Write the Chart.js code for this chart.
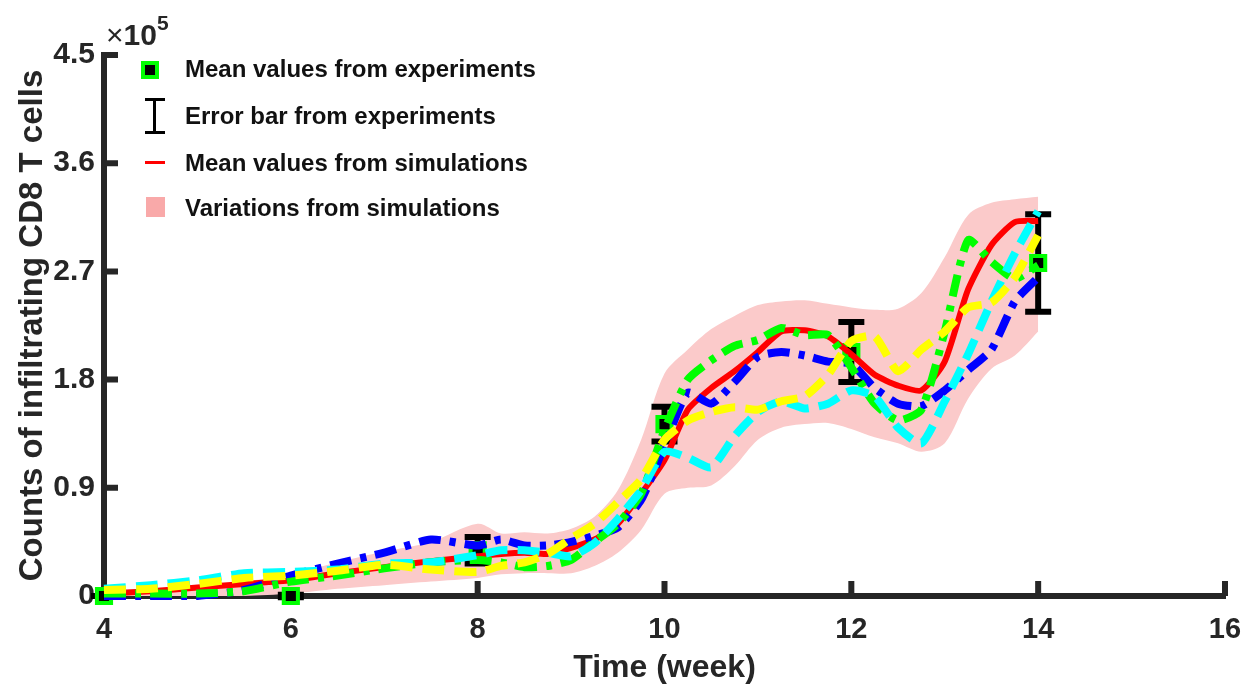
<!DOCTYPE html>
<html lang="en">
<head>
<meta charset="UTF-8">
<title>Infiltrating CD8 T cells</title>
<script src="https://cdn.jsdelivr.net/npm/chart.js"></script>
<style>
    body { margin: 0; background: #fff; font-family: "Liberation Sans", Arial, sans-serif; }
    #wrap { position: relative; width: 1260px; height: 687px; }
    canvas { position: absolute; left: 0; top: 0; }
    .lab { position: absolute; font-weight: bold; font-size: 24px; color: #111; white-space: nowrap; line-height: 1; }
    #expo { position: absolute; left: 106px; top: 16px; font-size: 30px; color: #262626; line-height: 1; }
    #expo b { font-weight: bold; }
    #expo sup { font-size: 21px; font-weight: bold; position: relative; top: -4px; }
    .mk { position: absolute; width: 10px; height: 10px; background: #000; border: 4px solid #00ff00; }
    .eb { position: absolute; width: 3px; background: #000; }
    .cap { position: absolute; width: 20px; height: 3px; background: #000; }
    .redl { position: absolute; width: 20px; height: 3px; background: #ff0000; }
    .pink { position: absolute; width: 19px; height: 20px; background: #f9a9a9; }
</style>
</head>
<body>
<div id="wrap">
    <canvas id="chart" width="1260" height="687"></canvas>
    <div id="expo">×<b>10</b><sup>5</sup></div>

    <div class="mk" style="left:141px; top:61px;"></div>
    <div class="lab" style="left:185px; top:57px;">Mean values from experiments</div>

    <div class="cap" style="left:145px; top:98px;"></div>
    <div class="eb" style="left:153px; top:98px; height:36px;"></div>
    <div class="cap" style="left:145px; top:131px;"></div>
    <div class="lab" style="left:185px; top:104px;">Error bar from experiments</div>

    <div class="redl" style="left:145px; top:161px;"></div>
    <div class="lab" style="left:185px; top:151px;">Mean values from simulations</div>

    <div class="pink" style="left:146px; top:197px;"></div>
    <div class="lab" style="left:185px; top:196px;">Variations from simulations</div>
</div>

<script>
    // time points (weeks) for the simulation curves
    const weeks = [4, 4.5, 5, 5.5, 6, 6.5, 7, 7.5,
        8, 8.25, 8.5, 8.75, 9, 9.25, 9.5, 9.75,
        10, 10.25, 10.5, 10.75, 11, 11.25, 11.5, 11.75,
        12, 12.25, 12.5, 12.75, 13, 13.25, 13.5, 13.75, 14];

    // values in units of 10^5 cells
    const simMean = [0.02, 0.04, 0.07, 0.10, 0.13, 0.19, 0.24, 0.29,
        0.33, 0.35, 0.36, 0.35, 0.40, 0.47, 0.60, 0.85,
        1.13, 1.55, 1.73, 1.87, 2.03, 2.20, 2.21, 2.16,
        2.01, 1.84, 1.75, 1.71, 1.95, 2.55, 2.92, 3.11, 3.12];
    const simBlue = [0.00, 0.00, 0.00, 0.05, 0.17, 0.27, 0.36, 0.47,
        0.42, 0.47, 0.42, 0.42, 0.45, 0.50, 0.57, 0.80,
        1.25, 1.69, 1.60, 1.78, 1.99, 2.03, 2.00, 1.95,
        1.93, 1.73, 1.60, 1.58, 1.71, 1.88, 2.05, 2.45, 2.65];
    const simGreen = [0.02, 0.02, 0.02, 0.04, 0.12, 0.17, 0.23, 0.28,
        0.30, 0.28, 0.24, 0.25, 0.30, 0.45, 0.60, 0.85,
        1.38, 1.80, 1.96, 2.08, 2.13, 2.23, 2.17, 2.17,
        1.90, 1.60, 1.46, 1.55, 2.20, 2.96, 2.78, 2.64, 2.75];
    const simCyan = [0.06, 0.09, 0.13, 0.19, 0.20, 0.22, 0.27, 0.28,
        0.34, 0.38, 0.38, 0.36, 0.33, 0.44, 0.64, 0.88,
        1.20, 1.15, 1.07, 1.33, 1.53, 1.62, 1.56, 1.60,
        1.71, 1.66, 1.40, 1.27, 1.62, 2.01, 2.45, 2.85, 3.20];
    const simYellow = [0.05, 0.06, 0.10, 0.15, 0.17, 0.21, 0.26, 0.22,
        0.20, 0.25, 0.28, 0.35, 0.48, 0.60, 0.78, 0.97,
        1.30, 1.46, 1.53, 1.57, 1.55, 1.62, 1.66, 1.84,
        2.12, 2.16, 1.87, 2.05, 2.20, 2.40, 2.44, 2.65, 3.00];
    const bandUpper = [0.05, 0.06, 0.08, 0.12, 0.18, 0.28, 0.37, 0.45,
        0.60, 0.52, 0.53, 0.52, 0.56, 0.66, 0.88, 1.30,
        1.85, 2.05, 2.22, 2.33, 2.42, 2.45, 2.46, 2.43,
        2.40, 2.38, 2.39, 2.52, 2.82, 3.17, 3.27, 3.30, 3.32];
    const bandLower = [0.00, 0.00, 0.00, 0.00, 0.02, 0.06, 0.09, 0.12,
        0.15, 0.18, 0.19, 0.19, 0.19, 0.25, 0.36, 0.55,
        0.85, 0.90, 0.92, 1.08, 1.30, 1.40, 1.43, 1.44,
        1.39, 1.32, 1.27, 1.20, 1.27, 1.64, 1.89, 2.00, 2.20];

    // experiments
    const expWeeks = [4, 6, 8, 10, 12, 14];
    const expMean = [0, 0, 0.38, 1.43, 2.03, 2.77];
    const expErr = [0, 0.01, 0.11, 0.145, 0.25, 0.405];

    const xTicks = [4, 6, 8, 10, 12, 14, 16];
    const yTicks = [0, 0.9, 1.8, 2.7, 3.6, 4.5];
    const yTickLabels = ['0', '0.9', '1.8', '2.7', '3.6', '4.5'];

    const axisColor = '#262626';
    const pts = vals => weeks.map((w, i) => ({ x: w, y: vals[i] }));

    function simLine(label, vals, color, dash, order) {
        return {
            label: label,
            data: pts(vals),
            borderColor: color,
            borderWidth: 8,
            borderDash: dash,
            borderJoinStyle: 'round',
            tension: 0.2,
            pointRadius: 0,
            fill: false,
            clip: false,
            order: order
        };
    }

    // experiment error bars, drawn right before the marker dataset
    const errorBars = {
        id: 'errorBars',
        beforeDatasetDraw(chart, args) {
            if (chart.data.datasets[args.index].label !== 'experiments') return;
            const { ctx, scales: { x, y } } = chart;
            ctx.save();
            ctx.strokeStyle = '#000';
            ctx.lineWidth = 6;
            ctx.beginPath();
            expWeeks.forEach((w, i) => {
                const px = x.getPixelForValue(w);
                const top = y.getPixelForValue(expMean[i] + expErr[i]);
                const bot = y.getPixelForValue(expMean[i] - expErr[i]);
                ctx.moveTo(px, top); ctx.lineTo(px, bot);
                ctx.moveTo(px - 13, top); ctx.lineTo(px + 13, top);
                ctx.moveTo(px - 13, bot); ctx.lineTo(px + 13, bot);
            });
            ctx.stroke();
            ctx.restore();
        }
    };

    // tick marks pointing into the plot
    const inwardTicks = {
        id: 'inwardTicks',
        beforeDatasetsDraw(chart) {
            const { ctx, chartArea: a, scales: { x, y } } = chart;
            ctx.save();
            ctx.strokeStyle = axisColor;
            ctx.lineWidth = 6;
            ctx.beginPath();
            xTicks.slice(1).forEach(v => {
                const px = x.getPixelForValue(v);
                ctx.moveTo(px, a.bottom);
                ctx.lineTo(px, a.bottom - 15);
            });
            yTicks.slice(1).forEach(v => {
                const py = y.getPixelForValue(v);
                ctx.moveTo(a.left, py);
                ctx.lineTo(a.left + 14, py);
            });
            ctx.stroke();
            ctx.restore();
        }
    };

    new Chart(document.getElementById('chart'), {
        type: 'line',
        data: {
            datasets: [
                simLine('yellow', simYellow, '#ffff00', [22, 10], 1),
                simLine('cyan', simCyan, '#00ffff', [22, 10], 2),
                simLine('green', simGreen, '#00ff00', [22, 9, 6, 9], 3),
                simLine('blue', simBlue, '#0000ff', [22, 9, 6, 9], 4),
                {
                    label: 'mean',
                    data: pts(simMean),
                    borderColor: '#ff0000',
                    borderWidth: 6,
                    borderJoinStyle: 'round',
                    tension: 0.2,
                    pointRadius: 0,
                    fill: false,
                    clip: false,
                    order: 5
                },
                {
                    label: 'experiments',
                    data: expWeeks.map((w, i) => ({ x: w, y: expMean[i] })),
                    showLine: false,
                    pointStyle: 'rect',
                    pointRadius: 10,
                    pointBackgroundColor: '#000',
                    pointBorderColor: '#00ff00',
                    pointBorderWidth: 4,
                    clip: false,
                    order: 6
                },
                {
                    label: 'upper',
                    data: pts(bandUpper),
                    borderWidth: 0,
                    pointRadius: 0,
                    tension: 0.3,
                    backgroundColor: '#fbcaca',
                    fill: '+1',
                    order: 7
                },
                {
                    label: 'lower',
                    data: pts(bandLower),
                    borderWidth: 0,
                    pointRadius: 0,
                    tension: 0.3,
                    fill: false,
                    order: 8
                }
            ]
        },
        options: {
            responsive: false,
            animation: false,
            devicePixelRatio: 1,
            layout: { padding: { top: 55, right: 35, left: 0, bottom: 0 } },
            plugins: {
                legend: { display: false },
                tooltip: { enabled: false }
            },
            scales: {
                x: {
                    type: 'linear',
                    min: 4,
                    max: 16,
                    afterBuildTicks: s => { s.ticks = xTicks.map(v => ({ value: v })); },
                    afterFit: s => { s.height = 91; },
                    grid: { display: false, drawTicks: false },
                    border: { color: axisColor, width: 6 },
                    ticks: {
                        color: axisColor,
                        padding: 17,
                        maxRotation: 0,
                        font: { family: 'Liberation Sans', size: 29, weight: 'bold' }
                    },
                    title: {
                        display: true,
                        text: 'Time (week)',
                        color: axisColor,
                        padding: { top: 0, bottom: 0 },
                        font: { family: 'Liberation Sans', size: 32, weight: 'bold' }
                    }
                },
                y: {
                    min: 0,
                    max: 4.5,
                    afterBuildTicks: s => { s.ticks = yTicks.map(v => ({ value: v })); },
                    afterFit: s => { s.width = 104; },
                    grid: { display: false, drawTicks: false },
                    border: { color: axisColor, width: 6 },
                    ticks: {
                        color: axisColor,
                        padding: 9,
                        callback: (v, i) => yTickLabels[i],
                        font: { family: 'Liberation Sans', size: 30, weight: 'bold' }
                    },
                    title: {
                        display: true,
                        text: 'Counts of infiltrating CD8 T cells',
                        color: axisColor,
                        padding: { top: 13, bottom: 0 },
                        font: { family: 'Liberation Sans', size: 33, weight: 'bold' }
                    }
                }
            }
        },
        plugins: [errorBars, inwardTicks]
    });
</script>
</body>
</html>
